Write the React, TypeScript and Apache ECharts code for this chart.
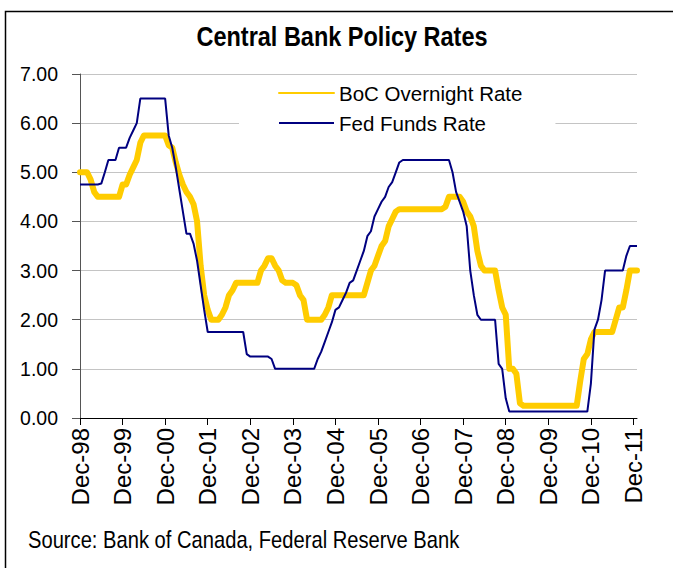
import React, { useEffect, useRef } from "react";
import * as echarts from "echarts";

const MONTH_NAMES = ["Jan", "Feb", "Mar", "Apr", "May", "Jun", "Jul", "Aug", "Sep", "Oct", "Nov", "Dec"];

// Monthly categories from Dec-98 to Jan-12
const categories: string[] = [];
for (let i = 0; i < 158; i++) {
  const m = (11 + i) % 12;
  const y = (98 + Math.floor((11 + i) / 12)) % 100;
  categories.push(`${MONTH_NAMES[m]}-${String(y).padStart(2, "0")}`);
}

const bocRate = [
  5.0, 5.0, 5.0, 4.85, 4.6, 4.5, 4.5, 4.5, 4.5, 4.5,
  4.5, 4.5, 4.75, 4.75, 4.95, 5.1, 5.25, 5.6, 5.75, 5.75,
  5.75, 5.75, 5.75, 5.75, 5.75, 5.55, 5.5, 5.2, 4.95, 4.75,
  4.6, 4.5, 4.35, 4.0, 3.1, 2.5, 2.2, 2.0, 2.0, 2.0,
  2.1, 2.25, 2.5, 2.6, 2.75, 2.75, 2.75, 2.75, 2.75, 2.75,
  2.75, 3.0, 3.1, 3.25, 3.25, 3.1, 3.0, 2.8, 2.75, 2.75,
  2.75, 2.7, 2.5, 2.4, 2.0, 2.0, 2.0, 2.0, 2.0, 2.1,
  2.25, 2.5, 2.5, 2.5, 2.5, 2.5, 2.5, 2.5, 2.5, 2.5,
  2.5, 2.75, 3.0, 3.1, 3.3, 3.5, 3.6, 3.9, 4.05, 4.2,
  4.25, 4.25, 4.25, 4.25, 4.25, 4.25, 4.25, 4.25, 4.25, 4.25,
  4.25, 4.25, 4.25, 4.3, 4.5, 4.5, 4.5, 4.5, 4.4, 4.2,
  4.1, 3.9, 3.4, 3.1, 3.0, 3.0, 3.0, 3.0, 2.6, 2.25,
  2.1, 1.0, 1.0, 0.9, 0.3, 0.25, 0.25, 0.25, 0.25, 0.25,
  0.25, 0.25, 0.25, 0.25, 0.25, 0.25, 0.25, 0.25, 0.25, 0.25,
  0.25, 0.75, 1.2, 1.3, 1.6, 1.75, 1.75, 1.75, 1.75, 1.75,
  1.75, 2.0, 2.25, 2.25, 2.6, 3.0, 3.0, 3.0,
];

const fedRate = [
  4.75, 4.75, 4.75, 4.75, 4.75, 4.75, 4.77, 5.0, 5.25, 5.25,
  5.25, 5.5, 5.5, 5.5, 5.7, 5.85, 6.0, 6.5, 6.5, 6.5,
  6.5, 6.5, 6.5, 6.5, 6.5, 5.75, 5.5, 5.1, 4.65, 4.2,
  3.75, 3.75, 3.55, 3.2, 2.7, 2.2, 1.75, 1.75, 1.75, 1.75,
  1.75, 1.75, 1.75, 1.75, 1.75, 1.75, 1.75, 1.3, 1.25, 1.25,
  1.25, 1.25, 1.25, 1.25, 1.2, 1.0, 1.0, 1.0, 1.0, 1.0,
  1.0, 1.0, 1.0, 1.0, 1.0, 1.0, 1.0, 1.2, 1.35, 1.55,
  1.75, 1.95, 2.2, 2.25, 2.4, 2.55, 2.75, 2.8, 3.0, 3.2,
  3.4, 3.7, 3.8, 4.1, 4.25, 4.4, 4.5, 4.7, 4.8, 5.0,
  5.2, 5.25, 5.25, 5.25, 5.25, 5.25, 5.25, 5.25, 5.25, 5.25,
  5.25, 5.25, 5.25, 5.25, 5.25, 5.0, 4.6, 4.4, 4.2, 3.9,
  3.0, 2.5, 2.1, 2.0, 2.0, 2.0, 2.0, 2.0, 1.1, 1.0,
  0.4, 0.13, 0.13, 0.13, 0.13, 0.13, 0.13, 0.13, 0.13, 0.13,
  0.13, 0.13, 0.13, 0.13, 0.13, 0.13, 0.13, 0.13, 0.13, 0.13,
  0.13, 0.13, 0.13, 0.13, 0.7, 1.8, 2.0, 2.4, 3.0, 3.0,
  3.0, 3.0, 3.0, 3.0, 3.3, 3.5, 3.5, 3.5,
];

const seriesNames = ["BoC Overnight Rate", "Fed Funds Rate"];
const titleText = "Central Bank Policy Rates";
const sourceText = "Source: Bank of Canada, Federal Reserve Bank";

const FONT = '"Liberation Sans", Arial, sans-serif';

export default function App() {
  const ref = useRef<HTMLDivElement>(null);
  useEffect(() => {
    if (!ref.current) return;
    const chart = echarts.init(ref.current, undefined, { renderer: "svg" });
    chart.setOption({
      animation: false,
      backgroundColor: "#ffffff",
      textStyle: { fontFamily: FONT },
      graphic: [
        {
          type: "rect",
          silent: true,
          z: -1,
          shape: { x: 5.5, y: 11.5, width: 720, height: 620 },
          style: { fill: "none", stroke: "#000", lineWidth: 1.5 },
        },
        {
          type: "text",
          x: 342,
          y: 36,
          scaleX: 0.87,
          style: {
            text: titleText,
            font: `bold 27px ${FONT}`,
            textAlign: "center",
            textVerticalAlign: "middle",
            fill: "#000",
          },
        },
        {
          type: "text",
          x: 28,
          y: 540,
          scaleX: 0.84,
          style: {
            text: sourceText,
            font: `24px ${FONT}`,
            textAlign: "left",
            textVerticalAlign: "middle",
            fill: "#000",
          },
        },
      ],
      grid: { left: 80, right: 36, top: 74, bottom: 150, containLabel: false },
      legend: {
        orient: "vertical",
        left: 239,
        top: 78,
        padding: [3, 33, 8, 39],
        backgroundColor: "#fff",
        itemWidth: 55,
        itemHeight: 14,
        itemGap: 6,
        itemStyle: { opacity: 0 },
        textStyle: { fontSize: 20.5, lineHeight: 24, color: "#000", fontFamily: FONT },
        data: seriesNames,
      },
      xAxis: {
        type: "category",
        data: categories,
        boundaryGap: false,
        axisLine: { lineStyle: { color: "#000", width: 1 } },
        axisTick: { interval: 11, length: 7, lineStyle: { color: "#000" } },
        axisLabel: {
          interval: 11,
          rotate: 90,
          margin: 10,
          fontFamily: FONT,
          fontSize: 24,
          color: "#000",
        },
        splitLine: { show: false },
      },
      yAxis: {
        type: "value",
        min: 0,
        max: 7,
        interval: 1,
        axisLine: { show: true, lineStyle: { color: "#555" } },
        axisTick: { show: true, length: 8, lineStyle: { color: "#555" } },
        axisLabel: {
          formatter: (v: number) => v.toFixed(2),
          margin: 22,
          fontSize: 19.5,
          fontFamily: FONT,
          color: "#000",
        },
        splitLine: { lineStyle: { color: "#c4c4c4", width: 1 } },
      },
      series: [
        {
          name: seriesNames[0],
          type: "line",
          data: bocRate,
          symbol: "none",
          z: 2,
          itemStyle: { color: "#FFCC00" },
          lineStyle: { color: "#FFCC00", width: 6, cap: "round", join: "round" },
        },
        {
          name: seriesNames[1],
          type: "line",
          data: fedRate,
          symbol: "none",
          z: 3,
          itemStyle: { color: "#000080" },
          lineStyle: { color: "#000080", width: 2 },
        },
      ],
    });
    return () => chart.dispose();
  }, []);
  return (
    <div
      ref={ref}
      style={{ position: "fixed", left: 0, top: 0, width: 673, height: 568, background: "#fff" }}
    />
  );
}
